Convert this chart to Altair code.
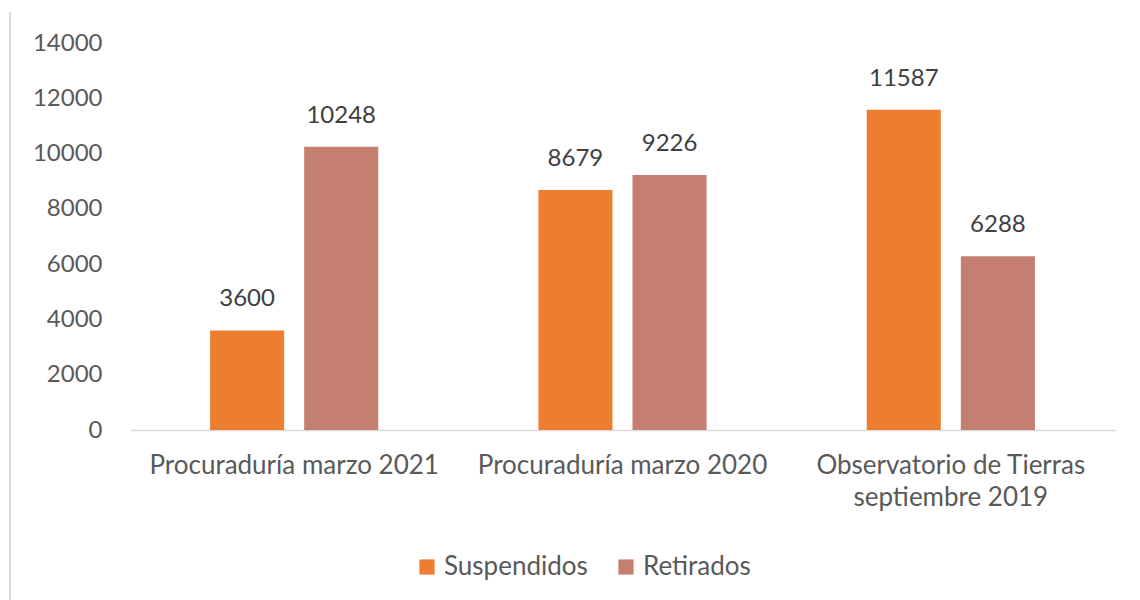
import altair as alt
import pandas as pd

categories = ["Procuraduría marzo 2021", "Procuraduría marzo 2020", "Observatorio de Tierras septiembre 2019"]
series = ["Suspendidos", "Retirados"]
suspendidos = [3600, 8679, 11587]
retirados = [10248, 9226, 6288]
colors = ["#ED7D31", "#C47F70"]
y_ticks = [0, 2000, 4000, 6000, 8000, 10000, 12000, 14000]

rows = []
for c, s, r in zip(categories, suspendidos, retirados):
    rows.append({"cat": c, "serie": "Suspendidos", "valor": s})
    rows.append({"cat": c, "serie": "Retirados", "valor": r})
df = pd.DataFrame(rows)

FONT = "Lato"
TXT = "#595959"

label_expr = ("datum.value == 'Observatorio de Tierras septiembre 2019' ? "
              "['Observatorio de Tierras', 'septiembre 2019'] : datum.value")

x = alt.X("cat:N", sort=categories, title=None,
          scale=alt.Scale(paddingInner=0, paddingOuter=0),
          axis=alt.Axis(labelAngle=0, labelFont=FONT, labelFontSize=26, labelColor=TXT,
                        labelPadding=22, labelLineHeight=32, labelExpr=label_expr,
                        ticks=False, domainColor="#D9D9D9", domainWidth=1.5,
                        labelLimit=400))
xo = alt.XOffset("serie:N", sort=series,
                 scale=alt.Scale(paddingInner=0.2128, paddingOuter=0.851))
y = alt.Y("valor:Q", title=None,
          scale=alt.Scale(domain=[0, 14000], nice=False),
          axis=alt.Axis(values=y_ticks, grid=False, domain=False, ticks=False,
                        labelFont=FONT, labelFontSize=24, labelColor=TXT,
                        labelPadding=28, format="d"))
color = alt.Color("serie:N", sort=series,
                  scale=alt.Scale(domain=series, range=colors),
                  legend=alt.Legend(title=None, orient="none", legendX=284, legendY=511,
                                    direction="horizontal", symbolType="square",
                                    symbolSize=230, symbolStrokeWidth=0, symbolOpacity=1,
                                    labelFont=FONT, labelFontSize=26, labelColor=TXT,
                                    columnPadding=25, labelOffset=4))

base = alt.Chart(df)
bars = base.mark_bar(opacity=1).encode(x=x, xOffset=xo, y=y, color=color)
labels = base.mark_text(dy=-24, baseline="alphabetic", font=FONT, fontSize=24, color="#404040").encode(
    x=x, xOffset=xo, y=y, text=alt.Text("valor:Q", format="d"))
frame = alt.Chart(pd.DataFrame({"a": [0]})).mark_rule(color="#D9D9D9", strokeWidth=2).encode(
    x=alt.value(-120), y=alt.value(-31), y2=alt.value(560))

chart = alt.layer(frame, bars, labels).properties(
    width=985, height=387,
    autosize=alt.AutoSizeParams(type="none"),
    padding={"left": 122, "top": 35, "right": 17, "bottom": 170},
).configure_view(stroke=None)

chart.save("out.html", embed_options={"renderer": "svg", "actions": False})
